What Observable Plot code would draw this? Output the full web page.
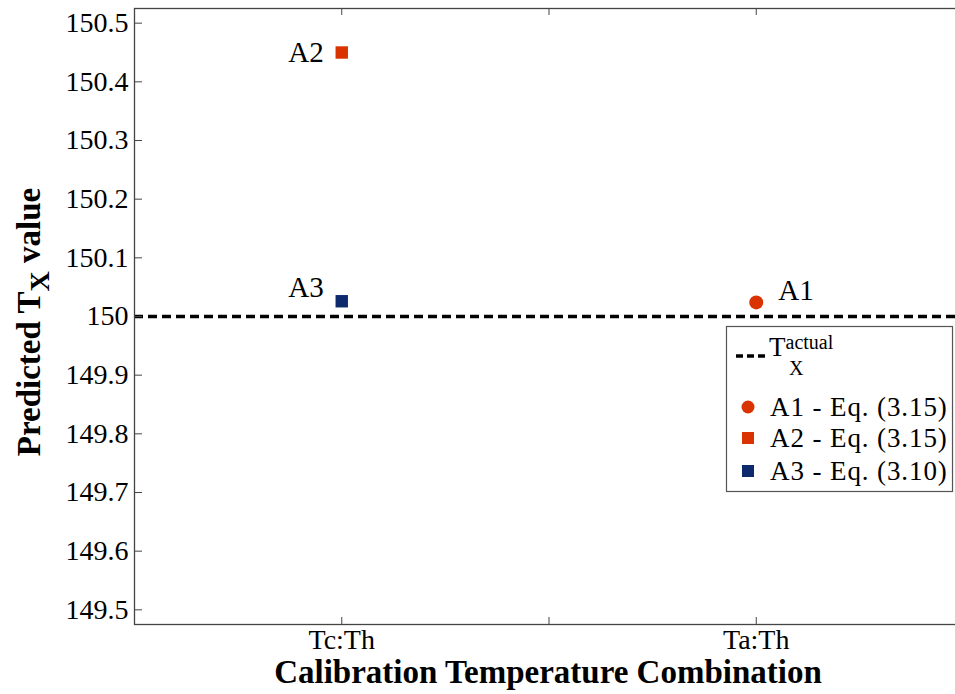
<!DOCTYPE html>
<html>
<head>
<meta charset="utf-8">
<script src="https://cdn.jsdelivr.net/npm/d3@7"></script>
<script src="https://cdn.jsdelivr.net/npm/@observablehq/plot@0.6"></script>
<style>
  html, body { margin: 0; padding: 0; background: #fff; overflow: hidden; }
  #chart { width: 955px; height: 694px; overflow: hidden; }
  #chart svg { overflow: hidden; }
  #chart svg text, #chart svg tspan { font-family: "Liberation Serif", serif !important; }
</style>
</head>
<body>
<div id="chart"></div>
<script>
// ---- data ----
const categories = ["Tc:Th", "Ta:Th"];
const categoryPositions = [1, 2];
const xTicks = [0.5, 1, 1.5, 2, 2.5];
const yTicks = [149.5, 149.6, 149.7, 149.8, 149.9, 150, 150.1, 150.2, 150.3, 150.4, 150.5];
const pointLabels = ["A1", "A2", "A3"];
const pointCategories = ["Ta:Th", "Tc:Th", "Tc:Th"];
const pointValues = [150.024, 150.45, 150.026];
const seriesNames = ["A1 - Eq. (3.15)", "A2 - Eq. (3.15)", "A3 - Eq. (3.10)"];
const seriesColors = ["#d83300", "#d83300", "#0c2a6c"];
const seriesSymbols = ["circle", "square", "square"];
const actualValue = 150;

const points = pointLabels.map((label, i) => ({
  label,
  x: categoryPositions[categories.indexOf(pointCategories[i])],
  y: pointValues[i],
  series: seriesNames[i]
}));

const serif = "Liberation Serif";
const axisColor = "#444";

const plot = Plot.plot({
  width: 955,
  height: 694,
  marginLeft: 134,
  marginRight: -8,
  marginTop: 8,
  marginBottom: 70,
  style: { fontFamily: serif, fontSize: "28px", color: "#000", background: "#fff" },
  x: { domain: [0.5, 2.5] },
  y: { domain: [149.475, 150.525] },
  color: { domain: seriesNames, range: seriesColors },
  symbol: { domain: seriesNames, range: seriesSymbols },
  marks: [
    Plot.ruleY([actualValue], { stroke: "#000", strokeWidth: 3.5, strokeDasharray: "9,5" }),
    Plot.frame({ stroke: axisColor, strokeWidth: 1.3 }),
    Plot.axisY(yTicks, { anchor: "left", tickSize: -8, tickPadding: 14, stroke: axisColor, fill: "#000", label: null,
      fontSize: 28, fontFamily: serif, fontVariant: "normal", tickFormat: d => String(+d.toFixed(1)) }),
    Plot.axisY(yTicks, { anchor: "right", tickSize: -8, tickFormat: () => "", stroke: axisColor, label: null }),
    Plot.axisX(xTicks, { anchor: "bottom", tickSize: -7, tickPadding: 12, stroke: axisColor, fill: "#000", label: null,
      fontSize: 28, fontFamily: serif, fontVariant: "normal",
      tickFormat: d => { const k = categoryPositions.indexOf(d); return k >= 0 ? categories[k] : ""; } }),
    Plot.axisX(xTicks, { anchor: "top", tickSize: -6, tickFormat: () => "", stroke: axisColor, label: null }),
    Plot.dot(points, { x: "x", y: "y", fill: "series", symbol: "series", r: 7, stroke: null }),
    Plot.text(points.filter(d => d.label === "A2"), { x: "x", y: "y", text: "label", textAnchor: "end", dx: -18, dy: 0, fontSize: 29, fontFamily: serif, fill: "#000" }),
    Plot.text(points.filter(d => d.label === "A3"), { x: "x", y: "y", text: "label", textAnchor: "end", dx: -18, dy: -14, fontSize: 29, fontFamily: serif, fill: "#000" }),
    Plot.text(points.filter(d => d.label === "A1"), { x: "x", y: "y", text: "label", textAnchor: "start", dx: 22, dy: -12, fontSize: 29, fontFamily: serif, fill: "#000" })
  ]
});

document.getElementById("chart").appendChild(plot);

// ---- axis titles & legend (added to the same SVG) ----
const svg = d3.select(plot);

// x title
svg.append("text")
  .attr("x", 548).attr("y", 683)
  .attr("text-anchor", "middle")
  .attr("font-family", serif).attr("font-weight", "bold").attr("font-size", 33)
  .attr("fill", "#000")
  .text("Calibration Temperature Combination");

// y title
const yt = svg.append("text")
  .attr("transform", "translate(40,322) rotate(-90)")
  .attr("text-anchor", "middle")
  .attr("font-family", serif).attr("font-weight", "bold").attr("font-size", 33)
  .attr("fill", "#000");
yt.append("tspan").text("Predicted T");
yt.append("tspan").attr("dy", 9).attr("font-size", 28).text("X");
yt.append("tspan").attr("dy", -9).text(" value");

// legend
const lg = svg.append("g").attr("font-family", serif).attr("fill", "#000").attr("text-anchor", "start");
lg.append("rect").attr("x", 726.5).attr("y", 326.5).attr("width", 226).attr("height", 165)
  .attr("fill", "#fff").attr("stroke", "#555").attr("stroke-width", 1.2);
lg.append("line").attr("x1", 736).attr("x2", 767).attr("y1", 356).attr("y2", 356)
  .attr("stroke", "#000").attr("stroke-width", 3.5).attr("stroke-dasharray", "7,4");
const tl = lg.append("text").attr("x", 769).attr("y", 356).attr("font-size", 27);
tl.append("tspan").text("T");
tl.append("tspan").attr("font-size", 20).attr("dy", -7).text("actual");
lg.append("text").attr("x", 789).attr("y", 375).attr("font-size", 20).text("X");

const rowY = [407, 438, 471];
const sym = { circle: d3.symbolCircle, square: d3.symbolSquare };
seriesNames.forEach((name, i) => {
  const shape = seriesSymbols[i];
  const size = shape === "circle" ? Math.PI * 6.5 * 6.5 : 12 * 12;
  lg.append("path")
    .attr("transform", `translate(748,${rowY[i]})`)
    .attr("d", d3.symbol(sym[shape], size)())
    .attr("fill", seriesColors[i]);
  lg.append("text").attr("x", 770).attr("y", rowY[i] + 9).attr("font-size", 27)
    .attr("letter-spacing", 0.9).text(name);
});
</script>
</body>
</html>
